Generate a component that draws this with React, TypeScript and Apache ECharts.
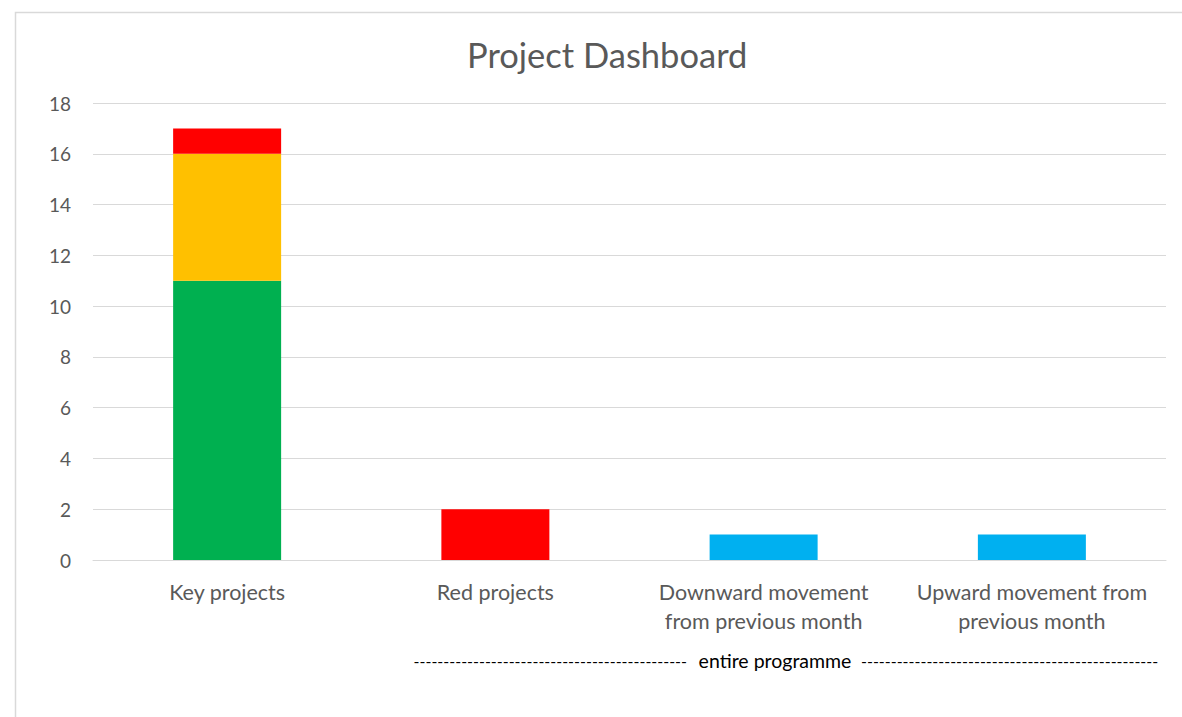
import React, { useEffect, useRef } from "react";
import * as echarts from "echarts";

const categories = [
  "Key projects",
  "Red projects",
  "Downward movement\nfrom previous month",
  "Upward movement from\nprevious month",
];
const greenValues = [11, "-", "-", "-"];
const amberValues = [5, "-", "-", "-"];
const redValues = [1, 2, "-", "-"];
const blueValues = ["-", "-", 1, 1];
const yTicks = { min: 0, max: 18, interval: 2 };
const titleText = "Project Dashboard";
const footnote = "entire programme";

export default function App() {
  const ref = useRef<HTMLDivElement>(null);
  useEffect(() => {
    document.body.style.margin = "0";
    const chart = echarts.init(ref.current!, null, { renderer: "svg" });
    const font = "Lato, 'Open Sans', sans-serif";
    const dashes = (n: number) => "-".repeat(n);
    const mk = (name: string, data: any[], color: string) => ({
      name,
      type: "bar",
      stack: "total",
      data,
      barWidth: 108,
      itemStyle: { color },
    });
    chart.setOption({
      animation: false,
      backgroundColor: "#ffffff",
      title: {
        text: titleText,
        left: 462,
        top: 32,
        textStyle: { color: "#595959", fontSize: 34.5, fontWeight: "normal", fontFamily: font },
      },
      grid: { left: 93, right: 16, top: 103, bottom: 157, containLabel: false },
      xAxis: {
        type: "category",
        data: categories,
        axisLine: { show: true, lineStyle: { color: "#d9d9d9", width: 1 } },
        axisTick: { show: false },
        axisLabel: {
          color: "#595959",
          fontSize: 21.5,
          fontFamily: font,
          lineHeight: 29,
          margin: 17,
          interval: 0,
        },
      },
      yAxis: {
        type: "value",
        min: yTicks.min,
        max: yTicks.max,
        interval: yTicks.interval,
        axisLine: { show: false },
        axisTick: { show: false },
        splitLine: { lineStyle: { color: "#d9d9d9", width: 1 } },
        axisLabel: { color: "#595959", fontSize: 19, fontFamily: font, margin: 22 },
      },
      series: [
        mk("Green", greenValues, "#00B050"),
        mk("Amber", amberValues, "#FFC000"),
        mk("Red", redValues, "#FF0000"),
        mk("Blue", blueValues, "#00B0F0"),
      ],
      graphic: [
        {
          type: "rect",
          left: 13,
          top: 10,
          shape: { x: 0, y: 0, width: 1200, height: 740 },
          style: { fill: "none", stroke: "#d9d9d9", lineWidth: 1.5 },
          silent: true,
        },
        {
          type: "text",
          x: 775,
          y: 660,
          style: {
            text: footnote,
            fill: "#000000",
            fontSize: 19.5,
            fontFamily: font,
            align: "center",
            verticalAlign: "middle",
          },
        },
        {
          type: "text",
          x: 687,
          y: 660,
          style: {
            text: dashes(46),
            fill: "#000000",
            fontSize: 16,
            fontFamily: font,
            align: "right",
            verticalAlign: "middle",
          },
        },
        {
          type: "text",
          x: 861,
          y: 660,
          style: {
            text: dashes(50),
            fill: "#000000",
            fontSize: 16,
            fontFamily: font,
            align: "left",
            verticalAlign: "middle",
          },
        },
      ],
    });
    return () => chart.dispose();
  }, []);
  return <div ref={ref} style={{ position: "absolute", left: 0, top: 0, width: 1182, height: 717 }} />;
}
